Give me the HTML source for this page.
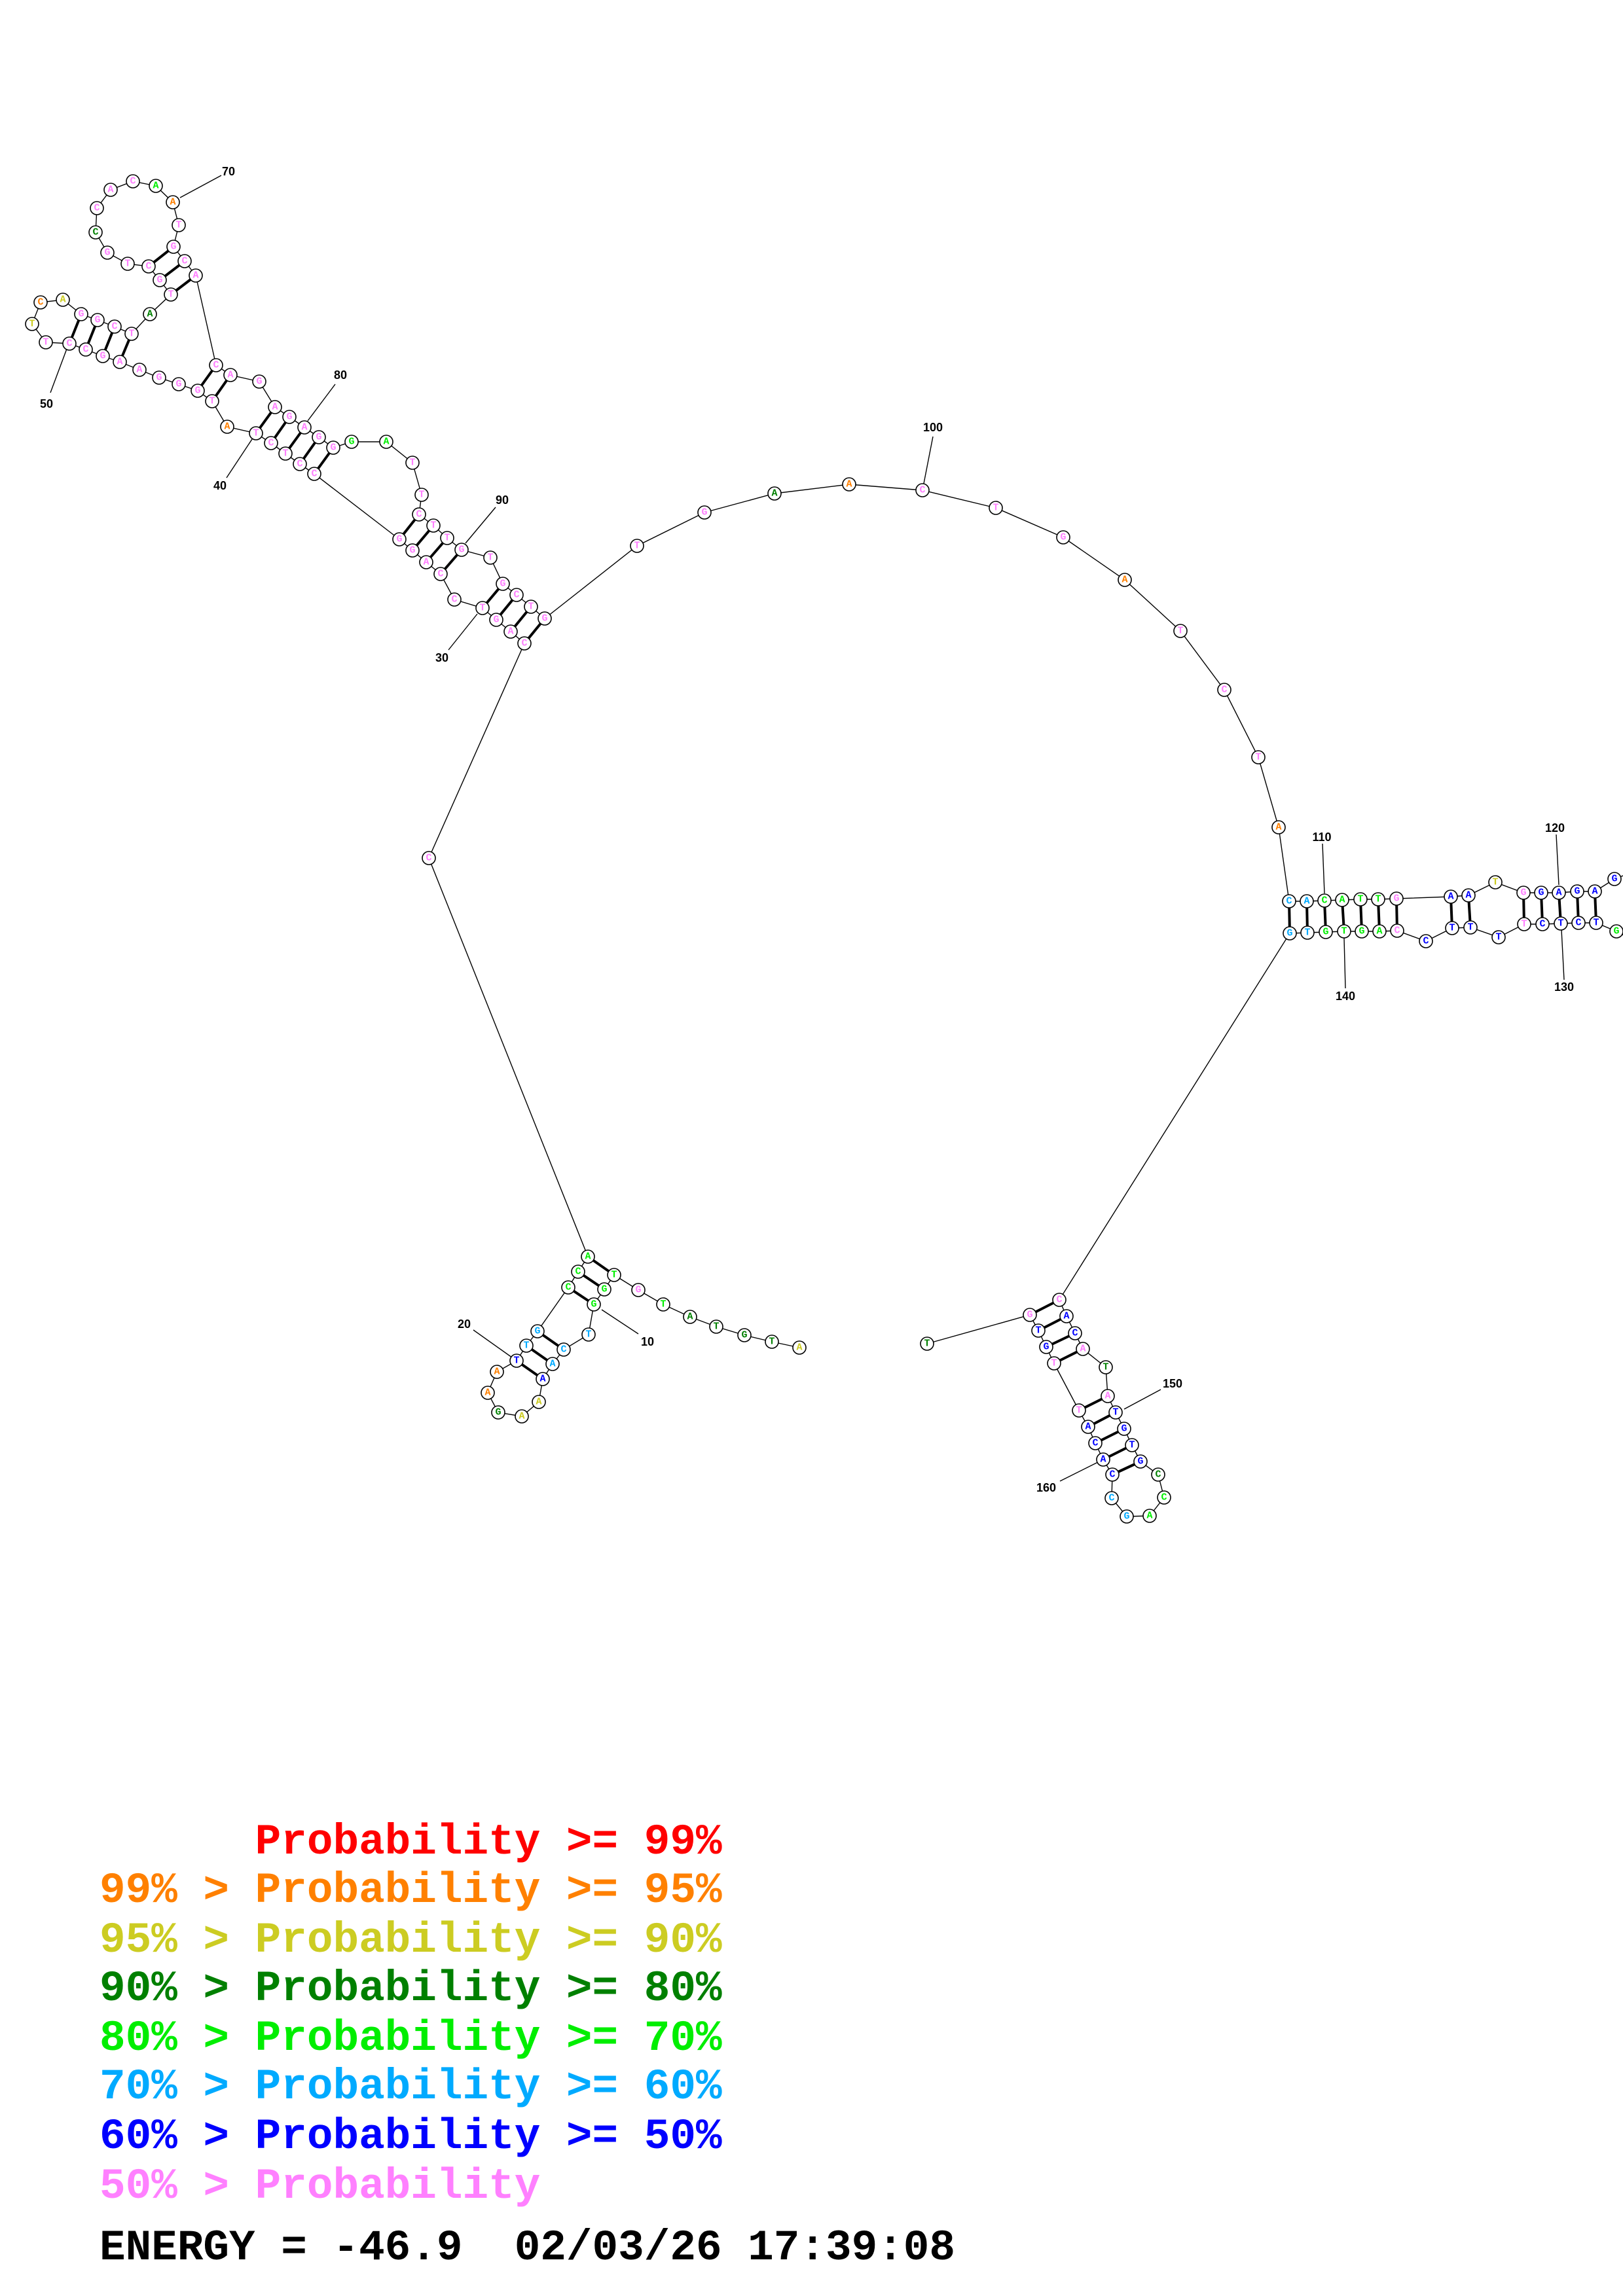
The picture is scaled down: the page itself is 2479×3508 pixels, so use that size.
<!DOCTYPE html>
<html><head><meta charset="utf-8">
<style>
html,body{margin:0;padding:0;background:#fff;}
svg{display:block;}
.n circle{fill:#fff;stroke:#000;stroke-width:1.6;}
.n text{font-family:"Liberation Mono",monospace;font-weight:bold;font-size:15px;text-anchor:middle;dominant-baseline:central;}
.p{fill:#ff80ff}.o{fill:#ff8000}.y{fill:#cccc22}.d{fill:#008000}.g{fill:#00ee00}.l{fill:#00aaff}.b{fill:#0000ff}.r{fill:#ff0000}
.lab{font-family:"Liberation Sans",sans-serif;font-weight:bold;font-size:18px;text-anchor:middle;dominant-baseline:central;fill:#000}
.leg{font-family:"Liberation Mono",monospace;font-weight:bold;font-size:66px;white-space:pre;}
</style></head><body>
<svg width="2479" height="3508" viewBox="0 0 2479 3508" xmlns="http://www.w3.org/2000/svg">
<g fill="none" stroke="#000" stroke-width="1.4">
<polyline points="1221,2059 1179,2050 1137,2040 1094,2027 1054,2012 1013,1993 975,1971 938,1948 923,1970 907,1993 899,2039 861,2062 844,2084 829,2107 823,2142 797,2164 761,2158 745,2128 759,2096 789,2079 804,2056 821,2034 868,1967 883,1943 898,1920 655,1311 801,983 780,965 758,947 737,929 694,916 673,877 651,859 630,841 610,824 480,724 458,709 436,693 414,677 391,662 347,652 324,613 302,597 273,587 243,577 213,565 183,553 157,544 131,534 106,525 70,523 49,495 62,462 96,458 124,480 149,489 175,499 201,510 229,480 261,450 244,428 227,407 195,403 164,386 146,355 148,318 169,290 203,277 238,284 264,309 273,344 265,377 282,399 299,421 330,558 352,573 396,583 420,622 442,637 465,653 487,668 509,684 537,675 590,675 630,707 644,756 640,786 662,803 683,822 705,840 749,852 768,892 789,909 811,927 832,945 973,834 1076,783 1183,754 1297,740 1409,749 1521,776 1624,821 1718,886 1803,964 1870,1054 1922,1157 1953,1264 1969,1377 1996,1377 2023,1376 2050,1375 2078,1374 2105,1374 2133,1373 2216,1370 2243,1368 2284,1348 2327,1364 2354,1364 2381,1364 2409,1362 2436,1362 2466,1343 2500,1330"/>
<polyline points="2500,1440 2469,1423 2438,1410 2411,1410 2384,1411 2356,1412 2328,1412 2289,1432 2246,1417 2218,1418 2178,1438 2134,1422 2107,1423 2080,1423 2053,1423 2025,1424 1997,1425 1970,1426 1618,1986 1629,2011 1642,2037 1654,2061 1689,2089 1692,2133 1704,2158 1717,2183 1729,2208 1742,2233 1769,2253 1778,2288 1756,2316 1721,2317 1698,2289 1699,2253 1685,2230 1673,2205 1662,2180 1648,2155 1610,2083 1598,2058 1586,2033 1573,2009 1416,2053"/>
<!-- label leaders -->
<line x1="919" y1="2001" x2="975" y2="2038"/><line x1="723" y1="2032" x2="789" y2="2079"/>
<line x1="685" y1="993" x2="729" y2="938"/><line x1="346" y1="730" x2="385" y2="671"/>
<line x1="77" y1="600" x2="102" y2="533"/><line x1="338" y1="268" x2="275" y2="302"/>
<line x1="512" y1="587" x2="470" y2="643"/><line x1="757" y1="775" x2="711" y2="830"/>
<line x1="1425" y1="667" x2="1409" y2="749"/><line x1="2020" y1="1289" x2="2023" y2="1365"/>
<line x1="2377" y1="1275" x2="2381" y2="1352"/><line x1="2389" y1="1497" x2="2385" y2="1420"/>
<line x1="2055" y1="1510" x2="2053" y2="1433"/><line x1="1773" y1="2123" x2="1717" y2="2153"/>
<line x1="1619" y1="2263" x2="1677" y2="2234"/>
</g>
<g stroke="#000" stroke-width="4">
<line x1="898" y1="1920" x2="938" y2="1948"/><line x1="883" y1="1943" x2="923" y2="1970"/><line x1="868" y1="1967" x2="907" y2="1993"/>
<line x1="821" y1="2034" x2="861" y2="2062"/><line x1="804" y1="2056" x2="844" y2="2084"/><line x1="789" y1="2079" x2="829" y2="2107"/>
<line x1="801" y1="983" x2="832" y2="945"/><line x1="780" y1="965" x2="811" y2="927"/><line x1="758" y1="947" x2="789" y2="909"/><line x1="737" y1="929" x2="768" y2="892"/>
<line x1="673" y1="877" x2="705" y2="840"/><line x1="651" y1="859" x2="683" y2="822"/><line x1="630" y1="841" x2="662" y2="803"/><line x1="610" y1="824" x2="640" y2="786"/>
<line x1="480" y1="724" x2="509" y2="684"/><line x1="458" y1="709" x2="487" y2="668"/><line x1="436" y1="693" x2="465" y2="653"/><line x1="414" y1="677" x2="442" y2="637"/><line x1="391" y1="662" x2="420" y2="622"/>
<line x1="330" y1="558" x2="302" y2="597"/><line x1="352" y1="573" x2="324" y2="613"/>
<line x1="183" y1="553" x2="201" y2="510"/><line x1="157" y1="544" x2="175" y2="499"/><line x1="131" y1="534" x2="149" y2="489"/><line x1="106" y1="525" x2="124" y2="480"/>
<line x1="261" y1="450" x2="299" y2="421"/><line x1="244" y1="428" x2="282" y2="399"/><line x1="227" y1="407" x2="265" y2="377"/>
<line x1="1969" y1="1377" x2="1970" y2="1426"/><line x1="1996" y1="1377" x2="1997" y2="1425"/><line x1="2023" y1="1376" x2="2025" y2="1424"/><line x1="2050" y1="1375" x2="2053" y2="1423"/><line x1="2078" y1="1374" x2="2080" y2="1423"/><line x1="2105" y1="1374" x2="2107" y2="1423"/><line x1="2133" y1="1373" x2="2134" y2="1422"/>
<line x1="2216" y1="1370" x2="2218" y2="1418"/><line x1="2243" y1="1368" x2="2246" y2="1417"/>
<line x1="2327" y1="1364" x2="2328" y2="1412"/><line x1="2354" y1="1364" x2="2356" y2="1412"/><line x1="2381" y1="1364" x2="2384" y2="1411"/><line x1="2409" y1="1362" x2="2411" y2="1410"/><line x1="2436" y1="1362" x2="2438" y2="1410"/>
<line x1="1618" y1="1986" x2="1573" y2="2009"/><line x1="1629" y1="2011" x2="1586" y2="2033"/><line x1="1642" y1="2037" x2="1598" y2="2058"/><line x1="1654" y1="2061" x2="1610" y2="2083"/>
<line x1="1692" y1="2133" x2="1648" y2="2155"/><line x1="1704" y1="2158" x2="1662" y2="2180"/><line x1="1717" y1="2183" x2="1673" y2="2205"/><line x1="1729" y1="2208" x2="1685" y2="2230"/><line x1="1742" y1="2233" x2="1699" y2="2253"/>
</g>
<g class="n">
<circle cx="1221" cy="2059" r="10"/><text x="1221" y="2059" class="y">A</text>
<circle cx="1179" cy="2050" r="10"/><text x="1179" y="2050" class="d">T</text>
<circle cx="1137" cy="2040" r="10"/><text x="1137" y="2040" class="d">G</text>
<circle cx="1094" cy="2027" r="10"/><text x="1094" y="2027" class="d">T</text>
<circle cx="1054" cy="2012" r="10"/><text x="1054" y="2012" class="d">A</text>
<circle cx="1013" cy="1993" r="10"/><text x="1013" y="1993" class="g">T</text>
<circle cx="975" cy="1971" r="10"/><text x="975" y="1971" class="p">G</text>
<circle cx="938" cy="1948" r="10"/><text x="938" y="1948" class="g">T</text>
<circle cx="923" cy="1970" r="10"/><text x="923" y="1970" class="g">G</text>
<circle cx="907" cy="1993" r="10"/><text x="907" y="1993" class="g">G</text>
<circle cx="899" cy="2039" r="10"/><text x="899" y="2039" class="l">T</text>
<circle cx="861" cy="2062" r="10"/><text x="861" y="2062" class="l">C</text>
<circle cx="844" cy="2084" r="10"/><text x="844" y="2084" class="l">A</text>
<circle cx="829" cy="2107" r="10"/><text x="829" y="2107" class="b">A</text>
<circle cx="823" cy="2142" r="10"/><text x="823" y="2142" class="y">A</text>
<circle cx="797" cy="2164" r="10"/><text x="797" y="2164" class="y">A</text>
<circle cx="761" cy="2158" r="10"/><text x="761" y="2158" class="d">G</text>
<circle cx="745" cy="2128" r="10"/><text x="745" y="2128" class="o">A</text>
<circle cx="759" cy="2096" r="10"/><text x="759" y="2096" class="o">A</text>
<circle cx="789" cy="2079" r="10"/><text x="789" y="2079" class="b">T</text>
<circle cx="804" cy="2056" r="10"/><text x="804" y="2056" class="l">T</text>
<circle cx="821" cy="2034" r="10"/><text x="821" y="2034" class="l">G</text>
<circle cx="868" cy="1967" r="10"/><text x="868" y="1967" class="g">C</text>
<circle cx="883" cy="1943" r="10"/><text x="883" y="1943" class="g">C</text>
<circle cx="898" cy="1920" r="10"/><text x="898" y="1920" class="g">A</text>
<circle cx="655" cy="1311" r="10"/><text x="655" y="1311" class="p">C</text>
<circle cx="801" cy="983" r="10"/><text x="801" y="983" class="p">C</text>
<circle cx="780" cy="965" r="10"/><text x="780" y="965" class="p">A</text>
<circle cx="758" cy="947" r="10"/><text x="758" y="947" class="p">G</text>
<circle cx="737" cy="929" r="10"/><text x="737" y="929" class="p">T</text>
<circle cx="694" cy="916" r="10"/><text x="694" y="916" class="p">C</text>
<circle cx="673" cy="877" r="10"/><text x="673" y="877" class="p">C</text>
<circle cx="651" cy="859" r="10"/><text x="651" y="859" class="p">A</text>
<circle cx="630" cy="841" r="10"/><text x="630" y="841" class="p">G</text>
<circle cx="610" cy="824" r="10"/><text x="610" y="824" class="p">G</text>
<circle cx="480" cy="724" r="10"/><text x="480" y="724" class="p">C</text>
<circle cx="458" cy="709" r="10"/><text x="458" y="709" class="p">C</text>
<circle cx="436" cy="693" r="10"/><text x="436" y="693" class="p">T</text>
<circle cx="414" cy="677" r="10"/><text x="414" y="677" class="p">C</text>
<circle cx="391" cy="662" r="10"/><text x="391" y="662" class="p">T</text>
<circle cx="347" cy="652" r="10"/><text x="347" y="652" class="o">A</text>
<circle cx="324" cy="613" r="10"/><text x="324" y="613" class="p">T</text>
<circle cx="302" cy="597" r="10"/><text x="302" y="597" class="p">G</text>
<circle cx="273" cy="587" r="10"/><text x="273" y="587" class="p">G</text>
<circle cx="243" cy="577" r="10"/><text x="243" y="577" class="p">G</text>
<circle cx="213" cy="565" r="10"/><text x="213" y="565" class="p">A</text>
<circle cx="183" cy="553" r="10"/><text x="183" y="553" class="p">A</text>
<circle cx="157" cy="544" r="10"/><text x="157" y="544" class="p">G</text>
<circle cx="131" cy="534" r="10"/><text x="131" y="534" class="p">C</text>
<circle cx="106" cy="525" r="10"/><text x="106" y="525" class="p">C</text>
<circle cx="70" cy="523" r="10"/><text x="70" y="523" class="p">T</text>
<circle cx="49" cy="495" r="10"/><text x="49" y="495" class="y">T</text>
<circle cx="62" cy="462" r="10"/><text x="62" y="462" class="o">C</text>
<circle cx="96" cy="458" r="10"/><text x="96" y="458" class="y">A</text>
<circle cx="124" cy="480" r="10"/><text x="124" y="480" class="p">G</text>
<circle cx="149" cy="489" r="10"/><text x="149" y="489" class="p">G</text>
<circle cx="175" cy="499" r="10"/><text x="175" y="499" class="p">C</text>
<circle cx="201" cy="510" r="10"/><text x="201" y="510" class="p">T</text>
<circle cx="229" cy="480" r="10"/><text x="229" y="480" class="d">A</text>
<circle cx="261" cy="450" r="10"/><text x="261" y="450" class="p">T</text>
<circle cx="244" cy="428" r="10"/><text x="244" y="428" class="p">G</text>
<circle cx="227" cy="407" r="10"/><text x="227" y="407" class="p">C</text>
<circle cx="195" cy="403" r="10"/><text x="195" y="403" class="p">T</text>
<circle cx="164" cy="386" r="10"/><text x="164" y="386" class="p">G</text>
<circle cx="146" cy="355" r="10"/><text x="146" y="355" class="d">C</text>
<circle cx="148" cy="318" r="10"/><text x="148" y="318" class="p">C</text>
<circle cx="169" cy="290" r="10"/><text x="169" y="290" class="p">A</text>
<circle cx="203" cy="277" r="10"/><text x="203" y="277" class="p">C</text>
<circle cx="238" cy="284" r="10"/><text x="238" y="284" class="g">A</text>
<circle cx="264" cy="309" r="10"/><text x="264" y="309" class="o">A</text>
<circle cx="273" cy="344" r="10"/><text x="273" y="344" class="p">T</text>
<circle cx="265" cy="377" r="10"/><text x="265" y="377" class="p">G</text>
<circle cx="282" cy="399" r="10"/><text x="282" y="399" class="p">C</text>
<circle cx="299" cy="421" r="10"/><text x="299" y="421" class="p">A</text>
<circle cx="330" cy="558" r="10"/><text x="330" y="558" class="p">C</text>
<circle cx="352" cy="573" r="10"/><text x="352" y="573" class="p">A</text>
<circle cx="396" cy="583" r="10"/><text x="396" y="583" class="p">G</text>
<circle cx="420" cy="622" r="10"/><text x="420" y="622" class="p">A</text>
<circle cx="442" cy="637" r="10"/><text x="442" y="637" class="p">G</text>
<circle cx="465" cy="653" r="10"/><text x="465" y="653" class="p">A</text>
<circle cx="487" cy="668" r="10"/><text x="487" y="668" class="p">G</text>
<circle cx="509" cy="684" r="10"/><text x="509" y="684" class="p">G</text>
<circle cx="537" cy="675" r="10"/><text x="537" y="675" class="g">G</text>
<circle cx="590" cy="675" r="10"/><text x="590" y="675" class="g">A</text>
<circle cx="630" cy="707" r="10"/><text x="630" y="707" class="p">T</text>
<circle cx="644" cy="756" r="10"/><text x="644" y="756" class="p">T</text>
<circle cx="640" cy="786" r="10"/><text x="640" y="786" class="p">C</text>
<circle cx="662" cy="803" r="10"/><text x="662" y="803" class="p">T</text>
<circle cx="683" cy="822" r="10"/><text x="683" y="822" class="p">T</text>
<circle cx="705" cy="840" r="10"/><text x="705" y="840" class="p">G</text>
<circle cx="749" cy="852" r="10"/><text x="749" y="852" class="p">T</text>
<circle cx="768" cy="892" r="10"/><text x="768" y="892" class="p">G</text>
<circle cx="789" cy="909" r="10"/><text x="789" y="909" class="p">C</text>
<circle cx="811" cy="927" r="10"/><text x="811" y="927" class="p">T</text>
<circle cx="832" cy="945" r="10"/><text x="832" y="945" class="p">G</text>
<circle cx="973" cy="834" r="10"/><text x="973" y="834" class="p">T</text>
<circle cx="1076" cy="783" r="10"/><text x="1076" y="783" class="p">G</text>
<circle cx="1183" cy="754" r="10"/><text x="1183" y="754" class="d">A</text>
<circle cx="1297" cy="740" r="10"/><text x="1297" y="740" class="o">A</text>
<circle cx="1409" cy="749" r="10"/><text x="1409" y="749" class="p">C</text>
<circle cx="1521" cy="776" r="10"/><text x="1521" y="776" class="p">T</text>
<circle cx="1624" cy="821" r="10"/><text x="1624" y="821" class="p">G</text>
<circle cx="1718" cy="886" r="10"/><text x="1718" y="886" class="o">A</text>
<circle cx="1803" cy="964" r="10"/><text x="1803" y="964" class="p">T</text>
<circle cx="1870" cy="1054" r="10"/><text x="1870" y="1054" class="p">C</text>
<circle cx="1922" cy="1157" r="10"/><text x="1922" y="1157" class="p">T</text>
<circle cx="1953" cy="1264" r="10"/><text x="1953" y="1264" class="o">A</text>
<circle cx="1969" cy="1377" r="10"/><text x="1969" y="1377" class="l">C</text>
<circle cx="1996" cy="1377" r="10"/><text x="1996" y="1377" class="l">A</text>
<circle cx="2023" cy="1376" r="10"/><text x="2023" y="1376" class="g">C</text>
<circle cx="2050" cy="1375" r="10"/><text x="2050" y="1375" class="g">A</text>
<circle cx="2078" cy="1374" r="10"/><text x="2078" y="1374" class="g">T</text>
<circle cx="2105" cy="1374" r="10"/><text x="2105" y="1374" class="g">T</text>
<circle cx="2133" cy="1373" r="10"/><text x="2133" y="1373" class="p">G</text>
<circle cx="2216" cy="1370" r="10"/><text x="2216" y="1370" class="b">A</text>
<circle cx="2243" cy="1368" r="10"/><text x="2243" y="1368" class="b">A</text>
<circle cx="2284" cy="1348" r="10"/><text x="2284" y="1348" class="y">T</text>
<circle cx="2327" cy="1364" r="10"/><text x="2327" y="1364" class="p">G</text>
<circle cx="2354" cy="1364" r="10"/><text x="2354" y="1364" class="b">G</text>
<circle cx="2381" cy="1364" r="10"/><text x="2381" y="1364" class="b">A</text>
<circle cx="2409" cy="1362" r="10"/><text x="2409" y="1362" class="b">G</text>
<circle cx="2436" cy="1362" r="10"/><text x="2436" y="1362" class="b">A</text>
<circle cx="2466" cy="1343" r="10"/><text x="2466" y="1343" class="b">G</text>
<circle cx="2469" cy="1423" r="10"/><text x="2469" y="1423" class="g">G</text>
<circle cx="2438" cy="1410" r="10"/><text x="2438" y="1410" class="b">T</text>
<circle cx="2411" cy="1410" r="10"/><text x="2411" y="1410" class="b">C</text>
<circle cx="2384" cy="1411" r="10"/><text x="2384" y="1411" class="b">T</text>
<circle cx="2356" cy="1412" r="10"/><text x="2356" y="1412" class="b">C</text>
<circle cx="2328" cy="1412" r="10"/><text x="2328" y="1412" class="p">T</text>
<circle cx="2289" cy="1432" r="10"/><text x="2289" y="1432" class="b">T</text>
<circle cx="2246" cy="1417" r="10"/><text x="2246" y="1417" class="b">T</text>
<circle cx="2218" cy="1418" r="10"/><text x="2218" y="1418" class="b">T</text>
<circle cx="2178" cy="1438" r="10"/><text x="2178" y="1438" class="b">C</text>
<circle cx="2134" cy="1422" r="10"/><text x="2134" y="1422" class="p">C</text>
<circle cx="2107" cy="1423" r="10"/><text x="2107" y="1423" class="g">A</text>
<circle cx="2080" cy="1423" r="10"/><text x="2080" y="1423" class="g">G</text>
<circle cx="2053" cy="1423" r="10"/><text x="2053" y="1423" class="g">T</text>
<circle cx="2025" cy="1424" r="10"/><text x="2025" y="1424" class="g">G</text>
<circle cx="1997" cy="1425" r="10"/><text x="1997" y="1425" class="l">T</text>
<circle cx="1970" cy="1426" r="10"/><text x="1970" y="1426" class="l">G</text>
<circle cx="1618" cy="1986" r="10"/><text x="1618" y="1986" class="p">C</text>
<circle cx="1629" cy="2011" r="10"/><text x="1629" y="2011" class="b">A</text>
<circle cx="1642" cy="2037" r="10"/><text x="1642" y="2037" class="b">C</text>
<circle cx="1654" cy="2061" r="10"/><text x="1654" y="2061" class="p">A</text>
<circle cx="1689" cy="2089" r="10"/><text x="1689" y="2089" class="d">T</text>
<circle cx="1692" cy="2133" r="10"/><text x="1692" y="2133" class="p">A</text>
<circle cx="1704" cy="2158" r="10"/><text x="1704" y="2158" class="b">T</text>
<circle cx="1717" cy="2183" r="10"/><text x="1717" y="2183" class="b">G</text>
<circle cx="1729" cy="2208" r="10"/><text x="1729" y="2208" class="b">T</text>
<circle cx="1742" cy="2233" r="10"/><text x="1742" y="2233" class="b">G</text>
<circle cx="1769" cy="2253" r="10"/><text x="1769" y="2253" class="d">C</text>
<circle cx="1778" cy="2288" r="10"/><text x="1778" y="2288" class="g">C</text>
<circle cx="1756" cy="2316" r="10"/><text x="1756" y="2316" class="g">A</text>
<circle cx="1721" cy="2317" r="10"/><text x="1721" y="2317" class="l">G</text>
<circle cx="1698" cy="2289" r="10"/><text x="1698" y="2289" class="l">C</text>
<circle cx="1699" cy="2253" r="10"/><text x="1699" y="2253" class="b">C</text>
<circle cx="1685" cy="2230" r="10"/><text x="1685" y="2230" class="b">A</text>
<circle cx="1673" cy="2205" r="10"/><text x="1673" y="2205" class="b">C</text>
<circle cx="1662" cy="2180" r="10"/><text x="1662" y="2180" class="b">A</text>
<circle cx="1648" cy="2155" r="10"/><text x="1648" y="2155" class="p">T</text>
<circle cx="1610" cy="2083" r="10"/><text x="1610" y="2083" class="p">T</text>
<circle cx="1598" cy="2058" r="10"/><text x="1598" y="2058" class="b">G</text>
<circle cx="1586" cy="2033" r="10"/><text x="1586" y="2033" class="b">T</text>
<circle cx="1573" cy="2009" r="10"/><text x="1573" y="2009" class="p">G</text>
<circle cx="1416" cy="2053" r="10"/><text x="1416" y="2053" class="d">T</text>
</g>
<g class="lab">
<text x="989" y="2050" class="lab">10</text><text x="709" y="2023" class="lab">20</text>
<text x="675" y="1005" class="lab">30</text><text x="336" y="742" class="lab">40</text>
<text x="71" y="617" class="lab">50</text><text x="349" y="262" class="lab">70</text>
<text x="520" y="573" class="lab">80</text><text x="767" y="764" class="lab">90</text>
<text x="1425" y="653" class="lab">100</text><text x="2019" y="1279" class="lab">110</text>
<text x="2375" y="1265" class="lab">120</text><text x="2389" y="1508" class="lab">130</text>
<text x="2055" y="1522" class="lab">140</text><text x="1791" y="2114" class="lab">150</text>
<text x="1598" y="2273" class="lab">160</text>
</g>
<text class="leg r" x="152" y="2832">      Probability &gt;= 99%</text>
<text class="leg o" x="152" y="2906">99% &gt; Probability &gt;= 95%</text>
<text class="leg y" x="152" y="2982">95% &gt; Probability &gt;= 90%</text>
<text class="leg d" x="152" y="3056">90% &gt; Probability &gt;= 80%</text>
<text class="leg g" x="152" y="3132">80% &gt; Probability &gt;= 70%</text>
<text class="leg l" x="152" y="3206">70% &gt; Probability &gt;= 60%</text>
<text class="leg b" x="152" y="3282">60% &gt; Probability &gt;= 50%</text>
<text class="leg p" x="152" y="3358">50% &gt; Probability</text>
<text class="leg" x="152" y="3452" fill="#000">ENERGY = -46.9  02/03/26 17:39:08</text>
</svg>
</body></html>
